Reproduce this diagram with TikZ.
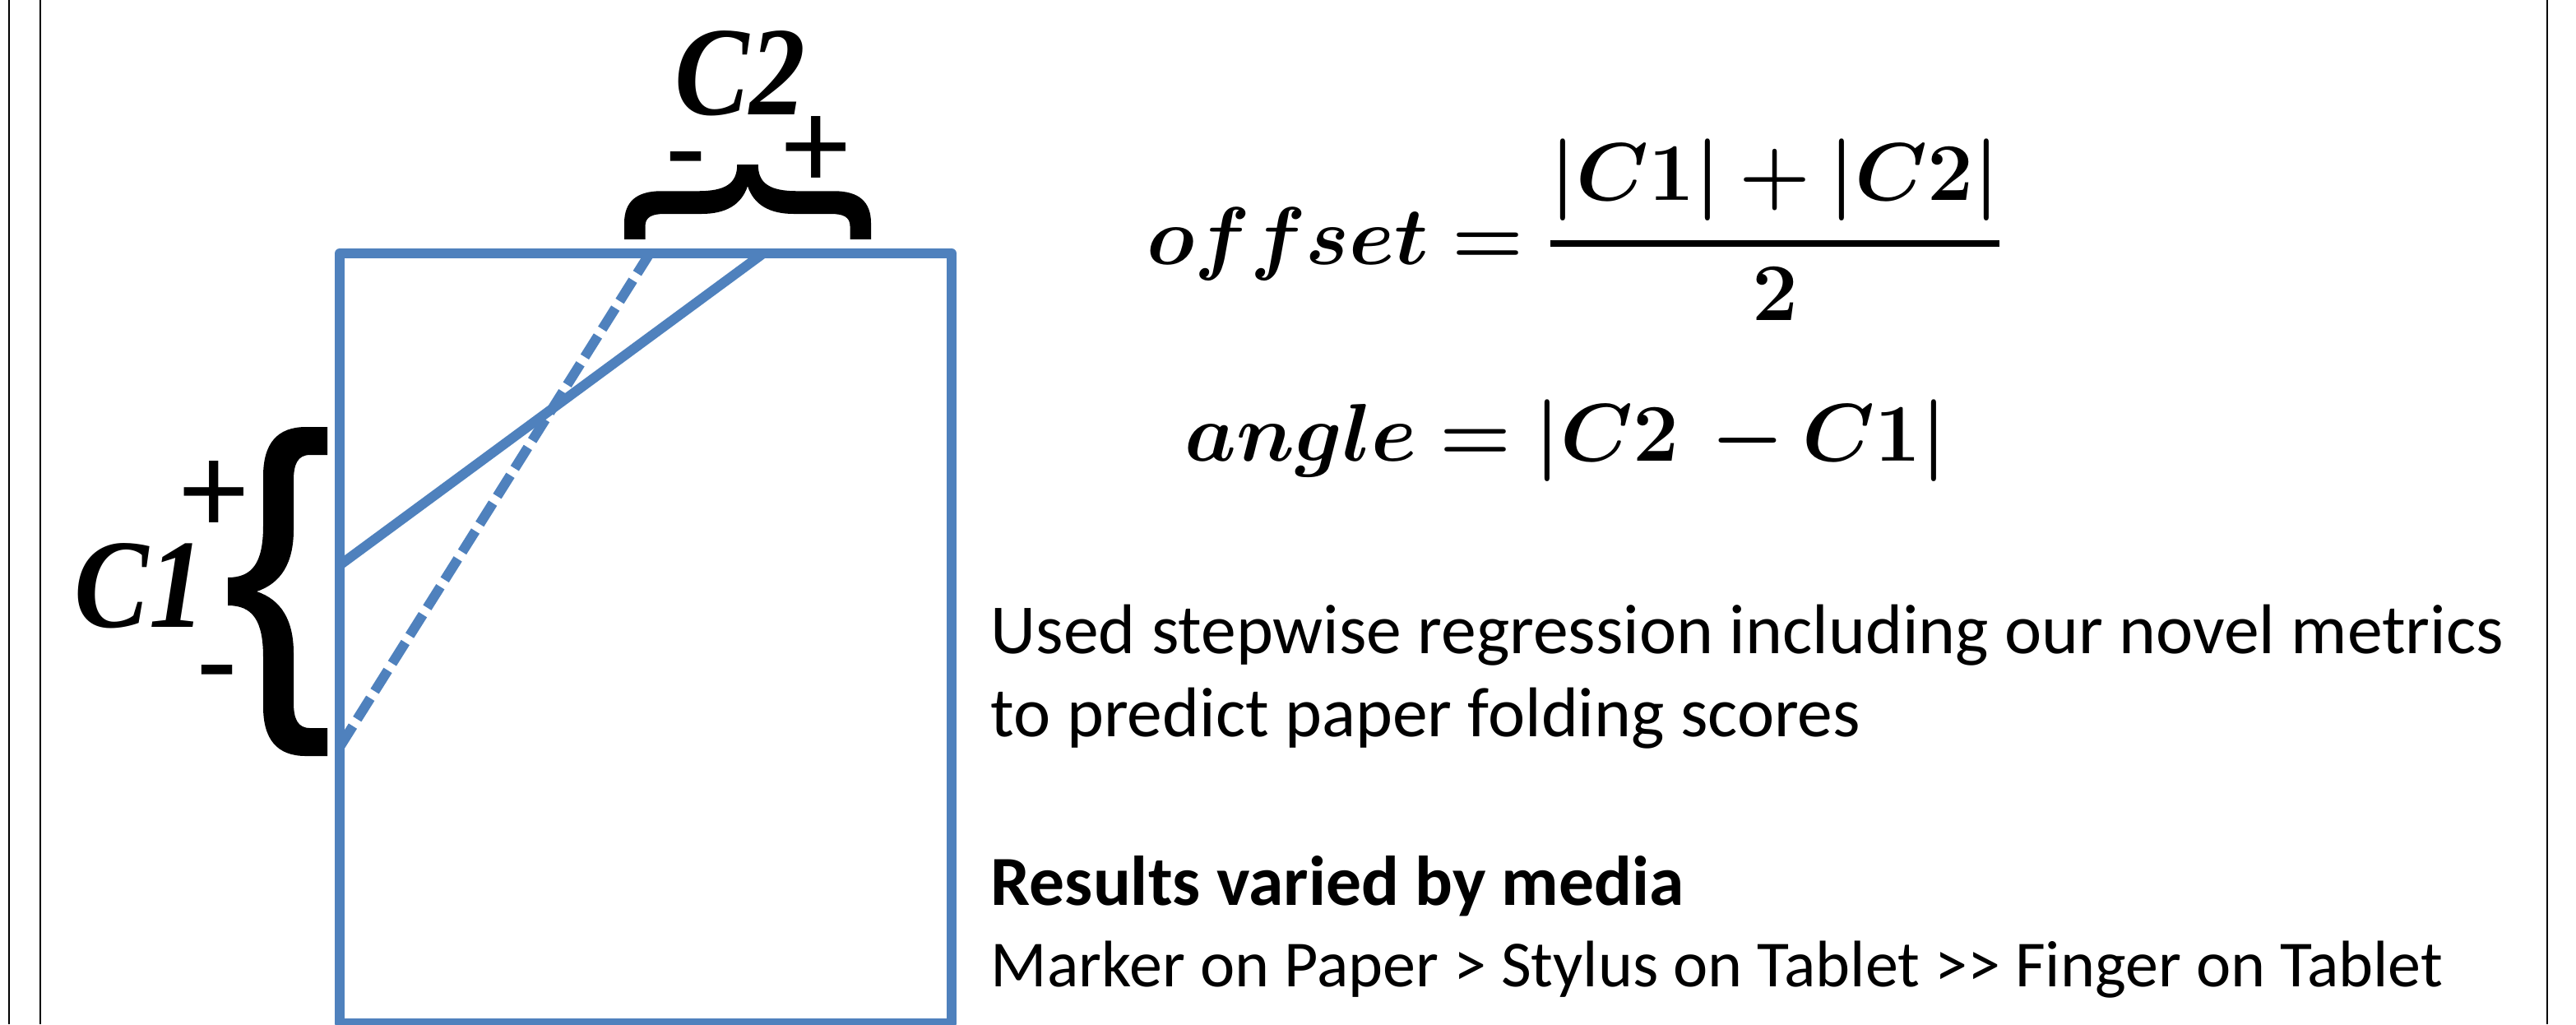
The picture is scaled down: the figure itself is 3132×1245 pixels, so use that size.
\documentclass[tikz,border=0pt]{standalone}
\usepackage{graphicx}
\usepackage{amsmath,bm}
\usepackage{fontspec}
\newfontfamily\calibrifont{Carlito}
\newfontfamily\labelfont{Liberation Serif}
\definecolor{officeblue}{HTML}{4F81BD}
\newcommand\bracepathcmd{(121,-200) -- (95,-200) .. controls (60,-200) and (43,-180) .. (43,-140) -- (43,-80) .. controls (43,-35) and (30,-17) .. (0,-17) -- (0,17) .. controls (30,17) and (43,35) .. (43,80) -- (43,140) .. controls (43,180) and (60,200) .. (95,200) -- (121,200) -- (121,166) -- (100,166) .. controls (85,166) and (80,155) .. (80,135) -- (80,75) .. controls (80,35) and (65,10) .. (35,0) .. controls (65,-10) and (80,-35) .. (80,-75) -- (80,-135) .. controls (80,-155) and (85,-166) .. (100,-166) -- (121,-166) -- cycle}
\begin{document}
\begin{tikzpicture}[x=0.25pt,y=-0.25pt,
  blueline/.style={draw=officeblue,line width=3pt},
  borderline/.style={draw=black,line width=0.5pt},
  bodytext/.style={anchor=base west,inner sep=0pt,font=\calibrifont\fontsize{21.4}{25}\selectfont},
  signtext/.style={inner sep=0pt,font=\calibrifont\fontsize{40}{48}\selectfont},
  labeltext/.style={anchor=base,inner sep=0pt,font=\labelfont\bfseries\itshape\fontsize{38.5}{44}\selectfont},
  formula/.style={anchor=base west,inner sep=0pt,font=\fontsize{25}{30}\selectfont}]
\useasboundingbox (0,0) rectangle (3132,1245);
% page borders
\draw[borderline] (11,0) -- (11,1245);
\draw[borderline] (49,0) -- (49,1245);
\draw[borderline] (3097,0) -- (3097,1245);
% paper rectangle
\coordinate (rtl) at (413,308);
\coordinate (rbr) at (1157,1244);
\draw[blueline,line join=round] (rtl) rectangle (rbr);
% fold lines
\coordinate (sA) at (413,687);
\coordinate (sB) at (928,308);
\coordinate (dA) at (413,908);
\coordinate (dB) at (790,308);
\draw[blueline] (sA) -- (sB);
\draw[blueline,dash pattern=on 7.5pt off 2.5pt] (dA) -- (dB);
% braces
\begin{scope}[shift={(277,719)}]
\fill[black] \bracepathcmd;
\end{scope}
\begin{scope}[cm={0,-0.75,-0.75,0,(227.25pt,-50pt)}]
\fill[black] \bracepathcmd;
\end{scope}
% labels
\node[labeltext] (c1) at (170,762) {\scalebox{0.88}[1]{C1}};
\node[labeltext] (c2) at (900,139) {\scalebox{0.88}[1]{C2}};
\node[signtext] (p1) at (260,604) {+};
\node[signtext] (m1) at (264,834) {-};
\node[signtext] (m2) at (834,210) {-};
\node[signtext] (p2) at (992,185) {+};
% formulas
\node[formula] (f1) at (1394,321) {$\displaystyle \bm{offset} \mathrel{\bm{=}} \genfrac{}{}{2pt}{0}{\bm{|C1| + |C2|}}{\bm{2}}$};
\node[formula] (f2) at (1440,560) {$\displaystyle \bm{angle} \mathrel{\bm{=}} \bm{|C2\,-C1|}$};
% text
\node[bodytext] (t1) at (1204,794) {Used stepwise regression including our novel metrics};
\node[bodytext] (t2) at (1204,895) {to predict paper folding scores};
\node[bodytext,font=\calibrifont\bfseries\fontsize{21.4}{25}\selectfont] (t3) at (1204,1100) {Results varied by media};
\node[bodytext,font=\calibrifont\fontsize{20}{24}\selectfont] (t4) at (1204,1199) {Marker on Paper > Stylus on Tablet >> Finger on Tablet};
\end{tikzpicture}
\end{document}
